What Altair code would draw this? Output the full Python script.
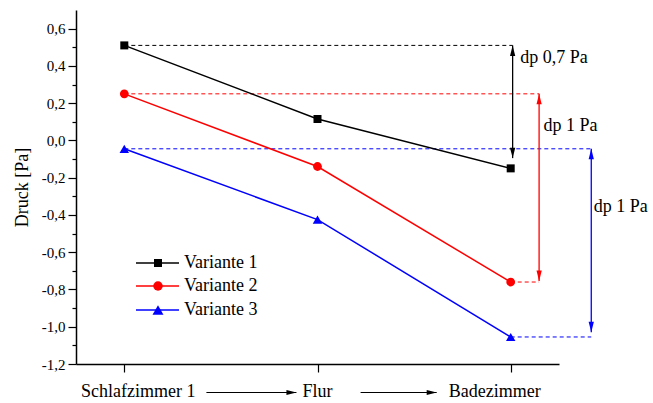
import altair as alt
import pandas as pd
import numpy as np

# ---------------- data ----------------
rooms = ["Schlafzimmer 1", "Flur", "Badezimmer"]
series = ["Variante 1", "Variante 2", "Variante 3"]
v1 = [0.51, 0.115, -0.15]
v2 = [0.25, -0.14, -0.76]
v3 = [-0.045, -0.425, -1.055]
colors = ["#000000", "#ff0000", "#0000ff"]
shapes = ["square", "circle", "triangle-up"]
dp_labels = ["dp 0,7 Pa", "dp 1 Pa", "dp 1 Pa"]
dp_top = [0.51, 0.25, -0.045]
dp_bottom = [-0.095, -0.755, -1.03]
y_ticks = [round(v, 1) for v in np.arange(-1.2, 0.61, 0.1)]

# ---------------- style constants ----------------
FONT = "Liberation Serif"
W, H = 483, 354
ARROW_X = [2.01, 2.147, 2.417]          # x of dp arrows (data units)
DP_TEXT_POS = [(2.05, 0.445), (2.17, 0.075), (2.43, -0.355)]
LABEL_DX = [14, 0, -16]
XARROWS = [(0.425, 0.891), (1.223, 1.617)]
LEG_Y = [253, 276, 300]

vals = [v1, v2, v3]
rows = []
for s, vs in zip(series, vals):
    for i, v in enumerate(vs):
        rows.append({"series": s, "x": i, "y": v, "room": rooms[i]})
df = pd.DataFrame(rows)

xscale = alt.Scale(domain=[-0.25, 2.25], nice=False, zero=False)
yscale = alt.Scale(domain=[-1.2, 0.7], nice=False, zero=False)
cscale = alt.Scale(domain=series, range=colors)

X = alt.X("x:Q", scale=xscale,
          axis=alt.Axis(values=[0, 1, 2], labels=False, tickSize=8, title=None,
                        grid=False, domainColor="black", tickColor="black",
                        domainWidth=1.5, tickWidth=1.2))
Y = alt.Y("y:Q", scale=yscale,
          axis=alt.Axis(values=y_ticks, title="Druck [Pa]", grid=False,
                        tickSize={"condition": {"test": "abs(round(datum.value*10)) % 2 == 0", "value": 8}, "value": 4},
                        labelExpr="abs(round(datum.value*10)) % 2 == 0 ? replace(replace(format(datum.value, '.1f'), '.', ','), '−', '-') : ''",
                        labelFont=FONT, labelFontSize=15, labelColor="black",
                        titleFont=FONT, titleFontSize=18, titleFontWeight="normal",
                        titleColor="black", titlePadding=10, labelPadding=3,
                        domainColor="black", tickColor="black",
                        domainWidth=1.5, tickWidth=1.2))
C = alt.Color("series:N", scale=cscale, legend=None)

layers = []

# dashed reference lines and arrows
ref_rows, base_rows, up_rows, dn_rows, shaft_rows, txt_rows = [], [], [], [], [], []
for k, s in enumerate(series):
    ref_rows.append({"series": s, "x": 0, "x2": ARROW_X[k], "y": dp_top[k]})
    if k > 0:
        base_rows.append({"series": s, "x": 2, "x2": ARROW_X[k], "y": vals[k][-1]})
    shaft_rows.append({"series": s, "x": ARROW_X[k], "y": dp_top[k], "y2": dp_bottom[k]})
    up_rows.append({"series": s, "x": ARROW_X[k], "y": dp_top[k]})
    dn_rows.append({"series": s, "x": ARROW_X[k], "y": dp_bottom[k]})
    txt_rows.append({"series": s, "x": DP_TEXT_POS[k][0], "y": DP_TEXT_POS[k][1], "label": dp_labels[k]})

ref = alt.Chart(pd.DataFrame(ref_rows + base_rows)).mark_rule(strokeDash=[4, 3], strokeWidth=1).encode(
    x=X, x2="x2:Q", y=Y, color=C)
shaft = alt.Chart(pd.DataFrame(shaft_rows)).mark_rule(strokeWidth=1.3).encode(
    x=X, y=Y, y2="y2:Q", color=C)
up = alt.Chart(pd.DataFrame(up_rows)).mark_point(
    filled=True, opacity=1, size=110, shape="M0,0 L0.5,2 L-0.5,2 Z").encode(x=X, y=Y, color=C)
dn = alt.Chart(pd.DataFrame(dn_rows)).mark_point(
    filled=True, opacity=1, size=110, shape="M0,0 L0.5,-2 L-0.5,-2 Z").encode(x=X, y=Y, color=C)
dptext = alt.Chart(pd.DataFrame(txt_rows)).mark_text(
    align="left", baseline="middle", font=FONT, fontSize=18, color="black").encode(
    x=X, y=Y, text="label:N")
layers += [ref, shaft, up, dn, dptext]

# data lines and markers
lines = alt.Chart(df).mark_line(strokeWidth=1.5).encode(x=X, y=Y, color=C, detail="series:N")
pts = alt.Chart(df).mark_point(filled=True, opacity=1).encode(
    x=X, y=Y, color=C,
    shape=alt.Shape("series:N", scale=alt.Scale(domain=series, range=shapes), legend=None),
    size=alt.Size("series:N", scale=alt.Scale(domain=series, range=[64, 90, 120]), legend=None))
layers += [lines, pts]

# x category labels
for i, r in enumerate(rooms):
    t = alt.Chart(pd.DataFrame({"x": [i], "label": [r]})).mark_text(
        align="center", baseline="alphabetic", font=FONT, fontSize=18, color="black",
        dx=LABEL_DX[i]).encode(x=X, y=alt.value(H + 33), text="label:N")
    layers.append(t)

# arrows between labels
for a, b in XARROWS:
    r = alt.Chart(pd.DataFrame({"x": [a], "x2": [b]})).mark_rule(color="black", strokeWidth=1).encode(
        x=X, x2="x2:Q", y=alt.value(H + 28.5))
    h = alt.Chart(pd.DataFrame({"x": [b]})).mark_point(
        filled=True, opacity=1, color="black", size=100, shape="M0,0 L-2,-0.5 L-2,0.5 Z").encode(
        x=X, y=alt.value(H + 28.5))
    layers += [r, h]

# manual legend
for k, s in enumerate(series):
    d = pd.DataFrame({"series": [s]})
    lr = alt.Chart(d).mark_rule(strokeWidth=1.5).encode(
        x=alt.value(60), x2=alt.value(103), y=alt.value(LEG_Y[k]), color=C)
    lp = alt.Chart(d).mark_point(filled=True, opacity=1, shape=shapes[k],
                                 size=[64, 90, 120][k]).encode(
        x=alt.value(82), y=alt.value(LEG_Y[k]), color=C)
    lt = alt.Chart(d).mark_text(align="left", baseline="middle", font=FONT, fontSize=18,
                                color="black").encode(
        x=alt.value(108), y=alt.value(LEG_Y[k]), text="series:N")
    layers += [lr, lp, lt]

chart = alt.layer(*layers).properties(
    width=W, height=H,
    autosize=alt.AutoSizeParams(type="none"),
    padding={"left": 76, "top": 10, "right": 94, "bottom": 39},
    background="white",
).configure_view(stroke=None)

chart.save("out.html", embed_options={"renderer": "svg", "actions": False})
